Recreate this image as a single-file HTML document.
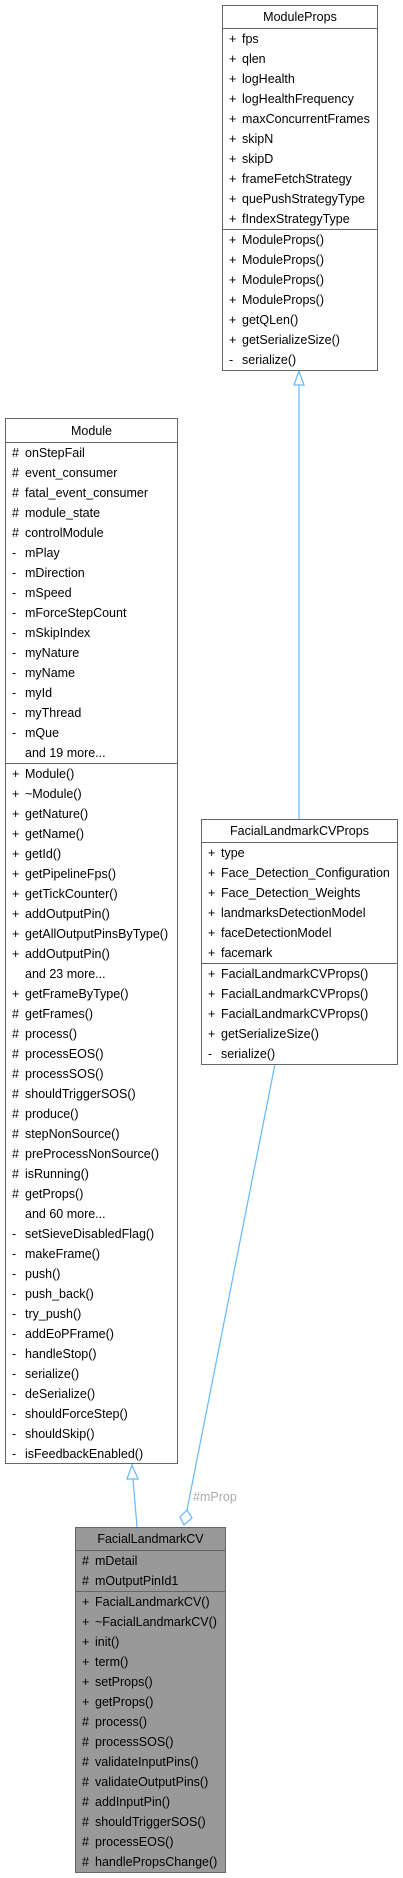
<!DOCTYPE html>
<html><head><meta charset="utf-8">
<style>
body{margin:0;width:403px;height:1878px;background:#fff;position:relative;font-family:"Liberation Sans",Arial,sans-serif;font-size:12.5px;color:#000;overflow:hidden}
.box{position:absolute;border:1px solid #666;background:#fff;box-sizing:border-box}
.t{height:23px;line-height:23px;text-align:center;border-bottom:1px solid #666;box-sizing:border-box}
.sec{border-bottom:1px solid #666}
.sec:last-child{border-bottom:none}
.r{height:20px;line-height:20px;white-space:nowrap;position:relative;padding-left:19px}
.r b{font-weight:normal;position:absolute;left:6px}
.g{background:#999}
svg{position:absolute;left:0;top:0}
</style></head><body>
<svg width="403" height="1878">
<line x1="299" y1="385" x2="299" y2="819" stroke="#63b8ff" stroke-width="1.2"/>
<polygon points="299,371 294,385 304,385" fill="#fff" stroke="#63b8ff" stroke-width="1.2"/>
<line x1="133" y1="1479" x2="137" y2="1527" stroke="#63b8ff" stroke-width="1.2"/>
<polygon points="132,1465 127,1479 138,1479" fill="#fff" stroke="#63b8ff" stroke-width="1.2"/>
<line x1="275" y1="1064" x2="187" y2="1510" stroke="#63b8ff" stroke-width="1.2"/>
<polygon points="187,1510 192,1518 184,1525 180,1517" fill="#fff" stroke="#63b8ff" stroke-width="1.2"/>
<text x="193" y="1501" font-family="Liberation Sans,Arial,sans-serif" font-size="12.5" fill="#aaa">#mProp</text>
</svg>

<div class="box" style="left:222px;top:5px;width:156px;height:366px">
<div class="t">ModuleProps</div>
<div class="sec">
<div class="r"><b>+</b>fps</div><div class="r"><b>+</b>qlen</div><div class="r"><b>+</b>logHealth</div><div class="r"><b>+</b>logHealthFrequency</div><div class="r"><b>+</b>maxConcurrentFrames</div><div class="r"><b>+</b>skipN</div><div class="r"><b>+</b>skipD</div><div class="r"><b>+</b>frameFetchStrategy</div><div class="r"><b>+</b>quePushStrategyType</div><div class="r"><b>+</b>fIndexStrategyType</div>
</div>
<div class="sec">
<div class="r"><b>+</b>ModuleProps()</div><div class="r"><b>+</b>ModuleProps()</div><div class="r"><b>+</b>ModuleProps()</div><div class="r"><b>+</b>ModuleProps()</div><div class="r"><b>+</b>getQLen()</div><div class="r"><b>+</b>getSerializeSize()</div><div class="r"><b>-</b>serialize()</div>
</div></div>

<div class="box" style="left:5px;top:418px;width:173px;height:1046px">
<div class="t" style="height:24px;line-height:24px">Module</div>
<div class="sec">
<div class="r"><b>#</b>onStepFail</div><div class="r"><b>#</b>event_consumer</div><div class="r"><b>#</b>fatal_event_consumer</div><div class="r"><b>#</b>module_state</div><div class="r"><b>#</b>controlModule</div><div class="r"><b>-</b>mPlay</div><div class="r"><b>-</b>mDirection</div><div class="r"><b>-</b>mSpeed</div><div class="r"><b>-</b>mForceStepCount</div><div class="r"><b>-</b>mSkipIndex</div><div class="r"><b>-</b>myNature</div><div class="r"><b>-</b>myName</div><div class="r"><b>-</b>myId</div><div class="r"><b>-</b>myThread</div><div class="r"><b>-</b>mQue</div><div class="r">and 19 more...</div>
</div>
<div class="sec">
<div class="r"><b>+</b>Module()</div><div class="r"><b>+</b>~Module()</div><div class="r"><b>+</b>getNature()</div><div class="r"><b>+</b>getName()</div><div class="r"><b>+</b>getId()</div><div class="r"><b>+</b>getPipelineFps()</div><div class="r"><b>+</b>getTickCounter()</div><div class="r"><b>+</b>addOutputPin()</div><div class="r"><b>+</b>getAllOutputPinsByType()</div><div class="r"><b>+</b>addOutputPin()</div><div class="r">and 23 more...</div><div class="r"><b>+</b>getFrameByType()</div><div class="r"><b>#</b>getFrames()</div><div class="r"><b>#</b>process()</div><div class="r"><b>#</b>processEOS()</div><div class="r"><b>#</b>processSOS()</div><div class="r"><b>#</b>shouldTriggerSOS()</div><div class="r"><b>#</b>produce()</div><div class="r"><b>#</b>stepNonSource()</div><div class="r"><b>#</b>preProcessNonSource()</div><div class="r"><b>#</b>isRunning()</div><div class="r"><b>#</b>getProps()</div><div class="r">and 60 more...</div><div class="r"><b>-</b>setSieveDisabledFlag()</div><div class="r"><b>-</b>makeFrame()</div><div class="r"><b>-</b>push()</div><div class="r"><b>-</b>push_back()</div><div class="r"><b>-</b>try_push()</div><div class="r"><b>-</b>addEoPFrame()</div><div class="r"><b>-</b>handleStop()</div><div class="r"><b>-</b>serialize()</div><div class="r"><b>-</b>deSerialize()</div><div class="r"><b>-</b>shouldForceStep()</div><div class="r"><b>-</b>shouldSkip()</div><div class="r"><b>-</b>isFeedbackEnabled()</div>
</div></div>

<div class="box" style="left:201px;top:819px;width:197px;height:246px">
<div class="t">FacialLandmarkCVProps</div>
<div class="sec">
<div class="r"><b>+</b>type</div><div class="r"><b>+</b>Face_Detection_Configuration</div><div class="r"><b>+</b>Face_Detection_Weights</div><div class="r"><b>+</b>landmarksDetectionModel</div><div class="r"><b>+</b>faceDetectionModel</div><div class="r"><b>+</b>facemark</div>
</div>
<div class="sec">
<div class="r"><b>+</b>FacialLandmarkCVProps()</div><div class="r"><b>+</b>FacialLandmarkCVProps()</div><div class="r"><b>+</b>FacialLandmarkCVProps()</div><div class="r"><b>+</b>getSerializeSize()</div><div class="r"><b>-</b>serialize()</div>
</div></div>

<div class="box g" style="left:75px;top:1527px;width:151px;height:346px">
<div class="t">FacialLandmarkCV</div>
<div class="sec">
<div class="r"><b>#</b>mDetail</div><div class="r"><b>#</b>mOutputPinId1</div>
</div>
<div class="sec">
<div class="r"><b>+</b>FacialLandmarkCV()</div><div class="r"><b>+</b>~FacialLandmarkCV()</div><div class="r"><b>+</b>init()</div><div class="r"><b>+</b>term()</div><div class="r"><b>+</b>setProps()</div><div class="r"><b>+</b>getProps()</div><div class="r"><b>#</b>process()</div><div class="r"><b>#</b>processSOS()</div><div class="r"><b>#</b>validateInputPins()</div><div class="r"><b>#</b>validateOutputPins()</div><div class="r"><b>#</b>addInputPin()</div><div class="r"><b>#</b>shouldTriggerSOS()</div><div class="r"><b>#</b>processEOS()</div><div class="r"><b>#</b>handlePropsChange()</div>
</div></div>
</body></html>
